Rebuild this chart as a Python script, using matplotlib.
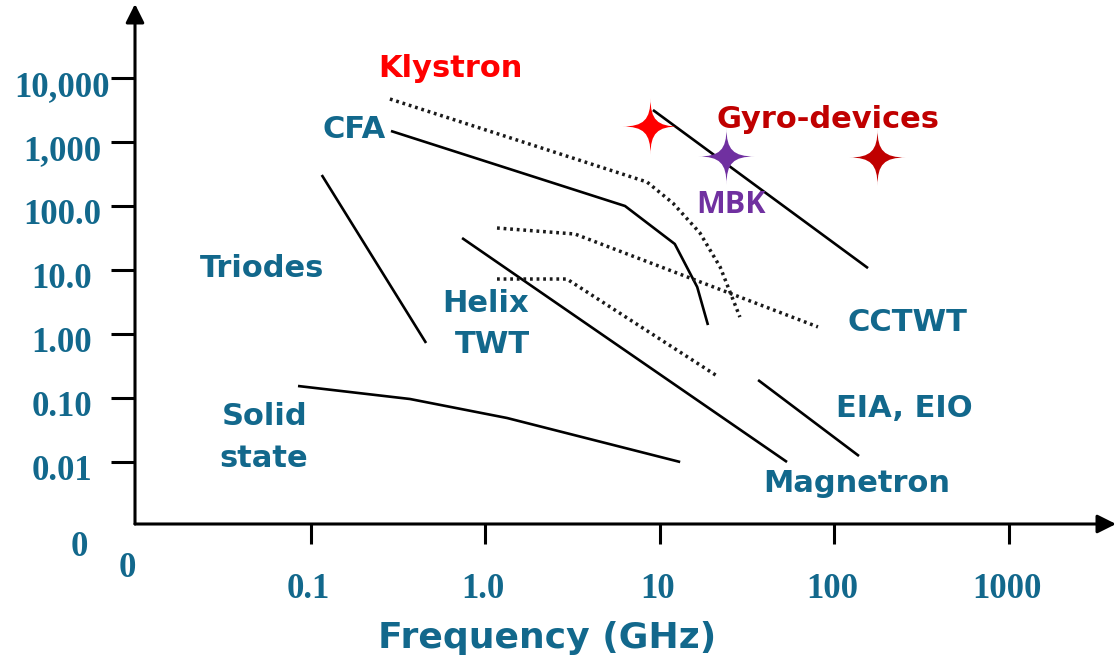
import matplotlib
matplotlib.use("Agg")
import matplotlib.pyplot as plt
from matplotlib.path import Path
import numpy as np

# ---------------- data ----------------
# tick values and labels
x_ticks = [0.1, 1, 10, 100, 1000]
x_tick_labels = ["0.1", "1.0", "10", "100", "1000"]
y_ticks = [1e4, 1e3, 1e2, 10, 1, 0.1, 0.01]
y_tick_labels = ["10,000", "1,000", "100.0", "10.0", "1.00", "0.10", "0.01"]

# solid device boundaries (frequency GHz, power kW)
cfa_f = [0.289, 6.33, 12.2, 16.4, 18.9]
cfa_p = [1486, 100, 25.5, 5.42, 1.38]
triode_f = [0.116, 0.459]
triode_p = [305, 0.724]
helix_f = [0.738, 53.6]
helix_p = [31.6, 0.01]
solid_f = [0.0848, 0.371, 1.335, 13.1]
solid_p = [0.154, 0.0965, 0.0487, 0.01]
gyro_f = [9.15, 156]
gyro_p = [3162, 10.7]
eia_f = [36.6, 138.5]
eia_p = [0.191, 0.0124]

# dotted boundaries
klystron_f = [0.285, 8.46, 11.9, 17.0, 22.2, 28.8]
klystron_p = [4695, 237, 111, 37.9, 11.1, 1.84]
cctwt_f = [1.17, 3.27, 80.6]
cctwt_p = [45.3, 36.5, 1.29]
magnetron_f = [1.17, 2.94, 21.3]
magnetron_p = [7.23, 7.23, 0.221]

# star markers
star_f = [8.80, 23.97, 175.6]
star_p = [1778, 604, 583]
star_colors = ["#ff0000", "#7030a0", "#c00000"]

TEAL = "#12688c"

# ---------------- figure ----------------
W, H, DPI = 1116, 661, 100
fig = plt.figure(figsize=(W / DPI, H / DPI), dpi=DPI)
ax = fig.add_axes([135 / W, (H - 524) / H, (W - 135) / W, (524 - 4) / H])
ax.set_xscale("log")
ax.set_yscale("log")
ax.set_xlim(10 ** -2.0052, 10 ** 3.6134)
ax.set_ylim(10 ** -2.96875, 10 ** 5.15625)
for s in ax.spines.values():
    s.set_visible(False)
ax.patch.set_visible(False)

# ticks
ax.xaxis.set_minor_locator(matplotlib.ticker.NullLocator())
ax.yaxis.set_minor_locator(matplotlib.ticker.NullLocator())
ax.set_xticks(x_ticks)
ax.set_yticks(y_ticks)
ax.set_xticklabels([])
ax.set_yticklabels([])
ax.tick_params(axis="x", direction="out", length=14.4, width=2.2, color="black")
ax.tick_params(axis="y", direction="out", length=17.3, width=2.2, color="black")

# axis lines with arrow heads
arrow_kw = dict(arrowstyle="-|>", lw=2.2, color="black", mutation_scale=28,
                shrinkA=0, shrinkB=0)
ax.annotate("", xy=(0, 1), xytext=(0, 0), xycoords="axes fraction",
            arrowprops=arrow_kw, annotation_clip=False)
ax.annotate("", xy=(1, 0), xytext=(0, 0), xycoords="axes fraction",
            arrowprops=arrow_kw, annotation_clip=False)

# tick labels
serif = dict(family="Liberation Serif", weight="bold", size=25, color=TEAL)
for v, lab in zip(y_ticks, y_tick_labels):
    ax.annotate(lab, xy=(0, v), xycoords=ax.get_yaxis_transform(),
                xytext=(-73, -18), textcoords="offset pixels",
                ha="center", va="baseline", annotation_clip=False, **serif)
for v, lab in zip(x_ticks, x_tick_labels):
    ax.annotate(lab, xy=(v, 0), xycoords=ax.get_xaxis_transform(),
                xytext=(-2, -74), textcoords="offset pixels",
                ha="center", va="baseline", annotation_clip=False, **serif)
ax.annotate("0", xy=(0, 0), xycoords="axes fraction", xytext=(-56, -32),
            textcoords="offset pixels", ha="center", va="baseline",
            annotation_clip=False, **serif)
ax.annotate("0", xy=(0, 0), xycoords="axes fraction", xytext=(-8, -53),
            textcoords="offset pixels", ha="center", va="baseline",
            annotation_clip=False, **serif)

# boundaries
solid_kw = dict(color="black", lw=1.9, solid_capstyle="butt")
for f, p in [(cfa_f, cfa_p), (triode_f, triode_p), (helix_f, helix_p),
             (solid_f, solid_p), (gyro_f, gyro_p), (eia_f, eia_p)]:
    ax.plot(f, p, **solid_kw)
dot_kw = dict(color="#1a1a1a", lw=2.5, linestyle=(0, (0.8, 1.1)))
for f, p in [(klystron_f, klystron_p), (cctwt_f, cctwt_p),
             (magnetron_f, magnetron_p)]:
    ax.plot(f, p, **dot_kw)

# four-pointed star marker with concave sides
verts, codes = [], []
tips = [(1, 0), (0, 1), (-1, 0), (0, -1)]
k = 0.24
verts.append(tips[0]); codes.append(Path.MOVETO)
for i in range(4):
    a = np.array(tips[i], float)
    b = np.array(tips[(i + 1) % 4], float)
    verts += [tuple(a * k), tuple(b * k), tuple(b)]
    codes += [Path.CURVE4] * 3
verts.append(tips[0]); codes.append(Path.CLOSEPOLY)
star = Path(verts, codes)
for f, p, c in zip(star_f, star_p, star_colors):
    ax.plot([f], [p], marker=star, markersize=41, color=c,
            markeredgewidth=0, linestyle="none")

# device labels
sans = dict(family="DejaVu Sans", weight="bold", size=22, ha="center",
            va="baseline")
labels = [
    ("Klystron", 0.63, 10370, "#ff0000"),
    ("CFA", 0.177, 1155, TEAL),
    ("Gyro-devices", 92.0, 1655, "#c00000"),
    ("Triodes", 0.0531, 7.77, TEAL),
    ("Helix", 1.0, 2.21, TEAL),
    ("TWT", 1.095, 0.505, TEAL),
    ("Solid", 0.0542, 0.0379, TEAL),
    ("state", 0.0542, 0.00835, TEAL),
    ("CCTWT", 260.9, 1.11, TEAL),
    ("EIA, EIO", 250.6, 0.0505, TEAL),
    ("Magnetron", 134.9, 0.0034, TEAL),
]
for txt, f, p, c in labels:
    ax.text(f, p, txt, color=c, **sans)
ax.text(25.6, 77.7, "MBK", color="#7030a0", family="Open Sans",
        weight="bold", size=22, ha="center", va="baseline")

fig.text(547 / W, 1 - 648 / H, "Frequency (GHz)", family="DejaVu Sans",
         weight="bold", size=26, color=TEAL, ha="center", va="baseline")

fig.savefig("out.png", dpi=DPI)
